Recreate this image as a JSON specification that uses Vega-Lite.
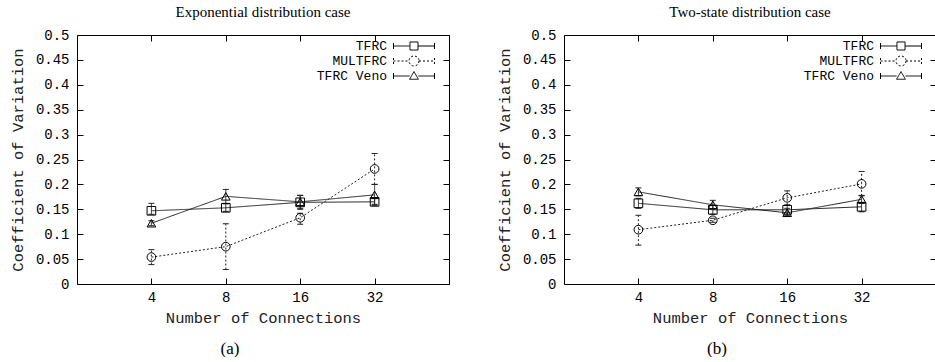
{
  "$schema": "https://vega.github.io/schema/vega-lite/v6.json",
  "padding": {"left": 9, "top": 4, "right": 0, "bottom": 0},
  "autosize": {"type": "pad"},
  "background": "white",
  "datasets": {
    "cv": [
      {"panel": "a", "series": "TFRC", "n": 4, "cv": 0.147, "lo": 0.140, "hi": 0.162},
      {"panel": "a", "series": "TFRC", "n": 8, "cv": 0.153, "lo": 0.146, "hi": 0.161},
      {"panel": "a", "series": "TFRC", "n": 16, "cv": 0.164, "lo": 0.152, "hi": 0.178},
      {"panel": "a", "series": "TFRC", "n": 32, "cv": 0.165, "lo": 0.158, "hi": 0.172},
      {"panel": "a", "series": "MULTFRC", "n": 4, "cv": 0.054, "lo": 0.039, "hi": 0.069},
      {"panel": "a", "series": "MULTFRC", "n": 8, "cv": 0.075, "lo": 0.029, "hi": 0.121},
      {"panel": "a", "series": "MULTFRC", "n": 16, "cv": 0.133, "lo": 0.120, "hi": 0.142},
      {"panel": "a", "series": "MULTFRC", "n": 32, "cv": 0.231, "lo": 0.200, "hi": 0.262},
      {"panel": "a", "series": "TFRC Veno", "n": 4, "cv": 0.122, "lo": 0.117, "hi": 0.127},
      {"panel": "a", "series": "TFRC Veno", "n": 8, "cv": 0.176, "lo": 0.162, "hi": 0.190},
      {"panel": "a", "series": "TFRC Veno", "n": 16, "cv": 0.165, "lo": 0.150, "hi": 0.178},
      {"panel": "a", "series": "TFRC Veno", "n": 32, "cv": 0.179, "lo": 0.160, "hi": 0.200},
      {"panel": "b", "series": "TFRC", "n": 4, "cv": 0.162, "lo": 0.152, "hi": 0.172},
      {"panel": "b", "series": "TFRC", "n": 8, "cv": 0.149, "lo": 0.140, "hi": 0.158},
      {"panel": "b", "series": "TFRC", "n": 16, "cv": 0.149, "lo": 0.138, "hi": 0.158},
      {"panel": "b", "series": "TFRC", "n": 32, "cv": 0.155, "lo": 0.145, "hi": 0.164},
      {"panel": "b", "series": "MULTFRC", "n": 4, "cv": 0.109, "lo": 0.078, "hi": 0.138},
      {"panel": "b", "series": "MULTFRC", "n": 8, "cv": 0.128, "lo": 0.124, "hi": 0.132},
      {"panel": "b", "series": "MULTFRC", "n": 16, "cv": 0.173, "lo": 0.159, "hi": 0.187},
      {"panel": "b", "series": "MULTFRC", "n": 32, "cv": 0.201, "lo": 0.177, "hi": 0.226},
      {"panel": "b", "series": "TFRC Veno", "n": 4, "cv": 0.185, "lo": 0.177, "hi": 0.193},
      {"panel": "b", "series": "TFRC Veno", "n": 8, "cv": 0.159, "lo": 0.150, "hi": 0.168},
      {"panel": "b", "series": "TFRC Veno", "n": 16, "cv": 0.143, "lo": 0.136, "hi": 0.152},
      {"panel": "b", "series": "TFRC Veno", "n": 32, "cv": 0.170, "lo": 0.162, "hi": 0.178}
    ]
  },
  "config": {
    "view": {"stroke": "black", "strokeWidth": 1},
    "axis": {
      "labelFont": "Liberation Mono", "labelFontSize": 14, "labelColor": "black", "labelOverlap": false, "labelFlush": false,
      "titleFont": "Liberation Mono", "titleFontSize": 15.5, "titleFontWeight": "normal", "titleColor": "#222",
      "domain": false, "grid": false, "tickColor": "black", "tickSize": -6, "labelPadding": 14
    },
    "legend": {"orient": "none", "legendX": 330, "legendY": 4, "title": null, "padding": 0, "labelFont": "Liberation Mono", "labelFontSize": 13, "labelColor": "black", "labelAlign": "right", "labelOffset": -34, "symbolSize": 169, "symbolStrokeColor": "black", "symbolFillColor": "transparent", "symbolStrokeWidth": 1, "symbolOpacity": 1, "rowPadding": 0},
    "title": {"font": "Liberation Serif", "fontSize": 15, "fontWeight": "normal", "color": "black", "offset": 8}
  },
  "spacing": 46,
  "hconcat": [
    {
      "title": {"text": "(a)", "orient": "bottom", "anchor": "middle", "font": "Liberation Serif", "fontSize": 17, "fontWeight": "normal", "offset": 15},
      "vconcat": [
        {
          "title": "Exponential distribution case",
          "width": 372, "height": 249,
          "data": {"name": "cv"},
          "transform": [{"filter": "datum.panel === 'a'"}],
          "layer": [
            {
              "mark": {"type": "line", "color": "#222", "strokeWidth": 1},
              "encoding": {
                "x": {"field": "n", "type": "quantitative", "scale": {"type": "log", "base": 2, "domain": [2, 64]},
                  "axis": {"values": [4, 8, 16, 32], "format": "d", "title": "Number of Connections", "labelPadding": 12, "titlePadding": 6}},
                "y": {"field": "cv", "type": "quantitative", "scale": {"domain": [0, 0.5], "nice": false},
                  "axis": {"tickCount": 10, "labelOverlap": false, "labelExpr": "format(datum.value, '.2~f')", "title": "Coefficient of Variation", "titlePadding": 10}},
                "strokeDash": {"field": "series", "type": "nominal", "scale": {"domain": ["TFRC", "MULTFRC", "TFRC Veno"], "range": [[1, 0], [2, 2], [1, 0]]}, "legend": null}
              }
            },
            {
              "mark": {"type": "rule", "color": "#222", "strokeWidth": 1},
              "encoding": {
                "x": {"field": "n", "type": "quantitative", "axis": null},
                "y": {"field": "lo", "type": "quantitative", "axis": null},
                "y2": {"field": "hi"},
                "strokeDash": {"field": "series", "type": "nominal", "scale": {"domain": ["TFRC", "MULTFRC", "TFRC Veno"], "range": [[1, 0], [2, 2], [1, 0]]}, "legend": null}
              }
            },
            {
              "mark": {"type": "tick", "orient": "horizontal", "color": "#222", "size": 6, "thickness": 1, "opacity": 1},
              "encoding": {"x": {"field": "n", "type": "quantitative", "axis": null}, "y": {"field": "lo", "type": "quantitative", "axis": null}}
            },
            {
              "mark": {"type": "tick", "orient": "horizontal", "color": "#222", "size": 6, "thickness": 1, "opacity": 1},
              "encoding": {"x": {"field": "n", "type": "quantitative", "axis": null}, "y": {"field": "hi", "type": "quantitative", "axis": null}}
            },
            {
              "mark": {"type": "point", "filled": false, "size": 75, "strokeWidth": 1, "color": "black", "opacity": 1},
              "encoding": {
                "x": {"field": "n", "type": "quantitative", "axis": null},
                "y": {"field": "cv", "type": "quantitative", "axis": null},
                "shape": {"field": "series", "type": "nominal", "scale": {"domain": ["TFRC", "MULTFRC", "TFRC Veno"], "range": ["square", "circle", "triangle-up"]}, "legend": null}
              }
            },
            {
              "transform": [{"filter": "false"}],
              "mark": {"type": "point", "filled": false, "strokeWidth": 1, "color": "black", "opacity": 1},
              "encoding": {
                "x": {"field": "n", "type": "quantitative", "axis": null},
                "y": {"field": "cv", "type": "quantitative", "axis": null},
                "shape": {"field": "series", "type": "nominal", "scale": {"domain": ["TFRC", "MULTFRC", "TFRC Veno"], "range": ["M-3.15,0H-0.62M0.62,0H3.15M-3.15,-0.46V0.46M3.15,-0.46V0.46M-0.62,-0.62H0.62V0.62H-0.62Z", "M-3.15,0H-0.77M0.77,0H3.15M-3.15,-0.46V0.46M3.15,-0.46V0.46M0.77,0A0.77,0.77 0 1,1 -0.77,0A0.77,0.77 0 1,1 0.77,0", "M-3.15,0H-0.68M0.68,0H3.15M-3.15,-0.46V0.46M3.15,-0.46V0.46M0,-0.68L0.68,0.5L-0.68,0.5Z"]}},
                "strokeDash": {"field": "series", "type": "nominal", "scale": {"domain": ["TFRC", "MULTFRC", "TFRC Veno"], "range": [[1, 0], [2, 2], [1, 0]]}}
              }
            },
            {
              "transform": [{"filter": "false"}],
              "mark": {"type": "point", "opacity": 0},
              "encoding": {
                "x": {"field": "n", "type": "quantitative", "axis": {"orient": "top", "values": [4, 8, 16, 32], "labels": false, "title": null}},
                "y": {"field": "cv", "type": "quantitative", "axis": {"orient": "right", "tickCount": 10, "labels": false, "title": null}}
              }
            }
          ],
          "resolve": {"scale": {"shape": "independent", "strokeDash": "independent"}, "axis": {"x": "independent", "y": "independent"}}
        }
      ]
    },
    {
      "title": {"text": "(b)", "orient": "bottom", "anchor": "middle", "font": "Liberation Serif", "fontSize": 17, "fontWeight": "normal", "offset": 15},
      "vconcat": [
        {
          "title": "Two-state distribution case",
          "width": 372, "height": 249,
          "data": {"name": "cv"},
          "transform": [{"filter": "datum.panel === 'b'"}],
          "layer": [
            {
              "mark": {"type": "line", "color": "#222", "strokeWidth": 1},
              "encoding": {
                "x": {"field": "n", "type": "quantitative", "scale": {"type": "log", "base": 2, "domain": [2, 64]},
                  "axis": {"values": [4, 8, 16, 32], "format": "d", "title": "Number of Connections", "labelPadding": 12, "titlePadding": 6}},
                "y": {"field": "cv", "type": "quantitative", "scale": {"domain": [0, 0.5], "nice": false},
                  "axis": {"tickCount": 10, "labelOverlap": false, "labelExpr": "format(datum.value, '.2~f')", "title": "Coefficient of Variation", "titlePadding": 10}},
                "strokeDash": {"field": "series", "type": "nominal", "scale": {"domain": ["TFRC", "MULTFRC", "TFRC Veno"], "range": [[1, 0], [2, 2], [1, 0]]}, "legend": null}
              }
            },
            {
              "mark": {"type": "rule", "color": "#222", "strokeWidth": 1},
              "encoding": {
                "x": {"field": "n", "type": "quantitative", "axis": null},
                "y": {"field": "lo", "type": "quantitative", "axis": null},
                "y2": {"field": "hi"},
                "strokeDash": {"field": "series", "type": "nominal", "scale": {"domain": ["TFRC", "MULTFRC", "TFRC Veno"], "range": [[1, 0], [2, 2], [1, 0]]}, "legend": null}
              }
            },
            {
              "mark": {"type": "tick", "orient": "horizontal", "color": "#222", "size": 6, "thickness": 1, "opacity": 1},
              "encoding": {"x": {"field": "n", "type": "quantitative", "axis": null}, "y": {"field": "lo", "type": "quantitative", "axis": null}}
            },
            {
              "mark": {"type": "tick", "orient": "horizontal", "color": "#222", "size": 6, "thickness": 1, "opacity": 1},
              "encoding": {"x": {"field": "n", "type": "quantitative", "axis": null}, "y": {"field": "hi", "type": "quantitative", "axis": null}}
            },
            {
              "mark": {"type": "point", "filled": false, "size": 75, "strokeWidth": 1, "color": "black", "opacity": 1},
              "encoding": {
                "x": {"field": "n", "type": "quantitative", "axis": null},
                "y": {"field": "cv", "type": "quantitative", "axis": null},
                "shape": {"field": "series", "type": "nominal", "scale": {"domain": ["TFRC", "MULTFRC", "TFRC Veno"], "range": ["square", "circle", "triangle-up"]}, "legend": null}
              }
            },
            {
              "transform": [{"filter": "false"}],
              "mark": {"type": "point", "filled": false, "strokeWidth": 1, "color": "black", "opacity": 1},
              "encoding": {
                "x": {"field": "n", "type": "quantitative", "axis": null},
                "y": {"field": "cv", "type": "quantitative", "axis": null},
                "shape": {"field": "series", "type": "nominal", "scale": {"domain": ["TFRC", "MULTFRC", "TFRC Veno"], "range": ["M-3.15,0H-0.62M0.62,0H3.15M-3.15,-0.46V0.46M3.15,-0.46V0.46M-0.62,-0.62H0.62V0.62H-0.62Z", "M-3.15,0H-0.77M0.77,0H3.15M-3.15,-0.46V0.46M3.15,-0.46V0.46M0.77,0A0.77,0.77 0 1,1 -0.77,0A0.77,0.77 0 1,1 0.77,0", "M-3.15,0H-0.68M0.68,0H3.15M-3.15,-0.46V0.46M3.15,-0.46V0.46M0,-0.68L0.68,0.5L-0.68,0.5Z"]}},
                "strokeDash": {"field": "series", "type": "nominal", "scale": {"domain": ["TFRC", "MULTFRC", "TFRC Veno"], "range": [[1, 0], [2, 2], [1, 0]]}}
              }
            },
            {
              "transform": [{"filter": "false"}],
              "mark": {"type": "point", "opacity": 0},
              "encoding": {
                "x": {"field": "n", "type": "quantitative", "axis": {"orient": "top", "values": [4, 8, 16, 32], "labels": false, "title": null}},
                "y": {"field": "cv", "type": "quantitative", "axis": {"orient": "right", "tickCount": 10, "labels": false, "title": null}}
              }
            }
          ],
          "resolve": {"scale": {"shape": "independent", "strokeDash": "independent"}, "axis": {"x": "independent", "y": "independent"}}
        }
      ]
    }
  ],
  "resolve": {
    "scale": {"shape": "independent", "strokeDash": "independent"},
    "legend": {"shape": "independent", "strokeDash": "independent"}
  }
}
